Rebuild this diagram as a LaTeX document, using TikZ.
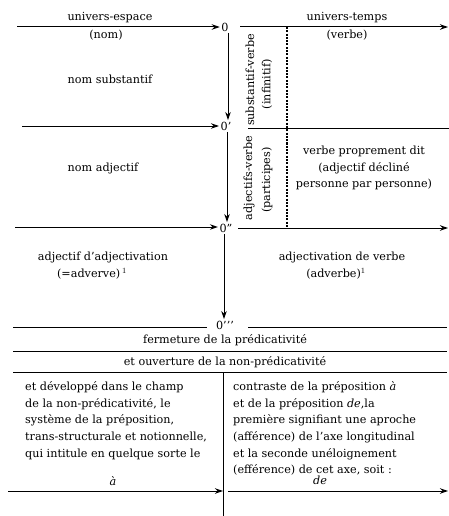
\documentclass[tikz,border=0pt]{standalone}
\usepackage{fontspec}
\setmainfont{DejaVu Serif}
\usetikzlibrary{arrows.meta}
\begin{document}
\begin{tikzpicture}[x=1pt,y=-1pt,
  lbl/.style={font=\fontsize{11.2}{13}\selectfont, inner sep=0pt},
  blk/.style={font=\fontsize{11.2}{16.6}\selectfont, inner sep=0pt, align=left, anchor=north west},
  cblk/.style={font=\fontsize{11.2}{16.6}\selectfont, inner sep=0pt, align=center},
  zero/.style={font=\fontsize{11.2}{13}\selectfont, inner sep=1.5pt},
  arr/.style={-{Stealth[length=8pt,width=5.5pt]}, line width=1pt},
  ln/.style={line width=1pt},
  dsh/.style={line width=1.1pt, dash pattern=on 2pt off 1.3pt}]
\useasboundingbox (0,0) rectangle (449,516);

% zero points
\node[zero] (z0) at (225,27) {0};
\node[zero] (z1) at (226,126) {0’};
\node[zero] (z2) at (226,228) {0”};
\node[zero] (z3) at (225,325) {0’’’};

% axis x positions
\coordinate (vx1) at (228,0);
\coordinate (vx2) at (227,0);
\coordinate (vx3) at (224,0);

% free ends
\coordinate (a0) at (17,27);
\coordinate (b0s) at (240,27);
\coordinate (b0e) at (448,27);
\coordinate (a1) at (22,126);
\coordinate (b1s) at (248,128);
\coordinate (b1e) at (449,128);
\coordinate (a2) at (15,227);
\coordinate (b2s) at (238,228);
\coordinate (b2e) at (448,228);
\coordinate (a3s) at (13,327);
\coordinate (a3e) at (207,327);
\coordinate (b3s) at (248,327);
\coordinate (b3e) at (447,327);
\coordinate (d0) at (287,27);
\coordinate (d1) at (287,228);
\coordinate (h1s) at (13,351);
\coordinate (h1e) at (447,351);
\coordinate (h2s) at (13,372);
\coordinate (h2e) at (447,372);
\coordinate (vt) at (223,372);
\coordinate (vb) at (223,516);
\coordinate (la) at (8,491);
\coordinate (lb) at (223,491);
\coordinate (ra) at (228,491);
\coordinate (rb) at (448,491);

% connectors
\draw[arr] (a0) -- (z0.west);
\draw[arr] (b0s) -- (b0e);
\draw[arr] (z0.south -| vx1) -- (z1.north -| vx1);
\draw[arr] (a1) -- (z1.west |- a1);
\draw[ln] (b1s) -- (b1e);
\draw[arr] (z1.south -| vx2) -- (z2.north -| vx2);
\draw[arr] (a2) -- (z2.west |- a2);
\draw[arr] (b2s) -- (b2e);
\draw[arr] (z2.south -| vx3) -- (z3.north -| vx3);
\draw[ln] (a3s) -- (a3e);
\draw[ln] (b3s) -- (b3e);
\draw[dsh] (d0) -- (d1);
\draw[ln] (h1s) -- (h1e);
\draw[ln] (h2s) -- (h2e);
\draw[ln] (vt) -- (vb);
\draw[arr] (la) -- (lb);
\draw[arr] (ra) -- (rb);

% labels top
\node[lbl] (ue) at (110,18) {univers-espace};
\node[lbl] (nom) at (106,35) {(nom)};
\node[lbl] (ut) at (347,18) {univers-temps};
\node[lbl] (vb1) at (347,35) {(verbe)};
\node[lbl] (ns) at (110,79) {nom substantif};
\node[lbl, rotate=90] (sv) at (250,80) {substantif-verbe};
\node[lbl, rotate=90] (inf) at (267,84) {(infinitif)};

% second band
\node[lbl] (na) at (103,168) {nom adjectif};
\node[lbl, rotate=90] (av) at (249,178) {adjectifs-verbe};
\node[lbl, rotate=90] (par) at (267,180) {(participes)};
\node[cblk] (vpd) at (364,168) {verbe proprement dit\\(adjectif décliné\\personne par personne)};

% third band
\node[lbl] (ada) at (103,257) {adjectif d’adjectivation};
\node[lbl] (adv1) at (92,274) {(=adverve)\,$^{1}$};
\node[lbl] (adv) at (342,257) {adjectivation de verbe};
\node[lbl] (adv2) at (336,274) {(adverbe)$^{1}$};

% bottom
\node[lbl] (ferm) at (225,340) {fermeture de la prédicativité};
\node[lbl] (ouv) at (225,362) {et ouverture de la non-prédicativité};
\node[blk] (left) at (25,381.5) {et développé dans le champ\\de la non-prédicativité, le\\système de la préposition,\\trans-structurale et notionnelle,\\qui intitule en quelque sorte le};
\node[blk] (right) at (233,381.5) {contraste de la préposition \textit{à}\\et de la préposition \textit{de},la\\première signifiant une aproche\\(afférence) de l’axe longitudinal\\et la seconde unéloignement\\(efférence) de cet axe, soit :};
\node[lbl] (a) at (113,481) {\textit{à}};
\node[lbl] (de) at (320,480) {\textit{de}};
\end{tikzpicture}
\end{document}
